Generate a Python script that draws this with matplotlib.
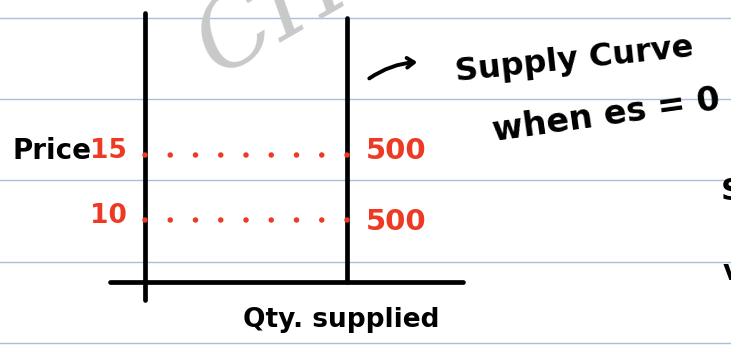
import numpy as np
import matplotlib
matplotlib.use('Agg')
import matplotlib.pyplot as plt

# perfectly inelastic supply: same quantity at every price
prices = [15, 10]
quantities = [500, 500]
price_labels = ['15', '10']
qty_labels = ['500', '500']

RED = '#ee3a24'
INK = '#000000'
RULE = '#a9bfdc'

W, H = 731, 355
fig = plt.figure(figsize=(W / 100, H / 100), dpi=100)
fig.patch.set_facecolor('white')

# page overlay in pixel units (y grows downward)
pg = fig.add_axes([0, 0, 1, 1])
pg.set_xlim(0, W)
pg.set_ylim(H, 0)
pg.axis('off')

# data axes: q=0 at px 145, q=500 at px 347; p=15 at px 155, p=10 at px 220
px_per_q = (347 - 145) / 500
px_per_p = (220 - 155) / 5
ax = fig.add_axes([0, 0, 1, 1], facecolor='none')
ax.set_xlim(-145 / px_per_q, (W - 145) / px_per_q)
ax.set_ylim(10 - (H - 220) / px_per_p, 15 + 155 / px_per_p)
ax.axis('off')

def p_to_px(p):
    return 155 + (15 - p) * px_per_p

# ruled notebook lines
for y in [18, 99, 180, 262, 343]:
    pg.plot([0, W], [y, y], color=RULE, lw=1.0, zorder=0)

# faint watermark, mostly off the top of the page
pg.text(272, 14, 'CH', fontsize=70, family='DejaVu Serif', style='italic',
        color='#c9c9c9', rotation=30, ha='center', va='center', zorder=1)

# axes drawn by hand
pg.plot([145, 145], [13, 300], color=INK, lw=3.4, solid_capstyle='round', zorder=3)
pg.plot([110, 463], [282, 282], color=INK, lw=3.4, solid_capstyle='round', zorder=3)

# supply curve: vertical at Q = 500
p_base = 10 - (282 - 220) / px_per_p
p_top = 15 + (155 - 18) / px_per_p
ax.plot([quantities[0], quantities[0]], [p_base, p_top], color=INK, lw=3.4,
        solid_capstyle='round', zorder=3)

# dotted guides from the price axis to the curve, 8 gaps per guide
lw_dot = 4.0
for p, q in zip(prices, quantities):
    span_pt = q * px_per_q * 0.72
    gap = span_pt / 8 / lw_dot
    ax.plot([0, q * 1.01], [p, p], color=RED, lw=lw_dot,
            linestyle=(0, (0.001, gap - 0.001)), dash_capstyle='round', zorder=4)

fs = dict(fontweight='bold', va='center')
pg.text(52, 151, 'Price', color=INK, ha='center', fontsize=20, **fs)
label_dy = [-4, -4]
qty_dy = [-4, 2]
for p, lab, dy in zip(prices, price_labels, label_dy):
    pg.text(127, p_to_px(p) + dy, lab, color=RED, ha='right', fontsize=19, **fs)
for p, lab, dy in zip(prices, qty_labels, qty_dy):
    pg.text(366, p_to_px(p) + dy, lab, color=RED, ha='left', fontsize=21, **fs)

pg.text(341, 320, 'Qty. supplied', color=INK, ha='center', fontsize=19, **fs)

# arrow pointing to the label
pg.annotate('', xy=(420, 62), xytext=(367, 80),
            arrowprops=dict(arrowstyle='->,head_length=0.5,head_width=0.35',
                            color=INK, lw=2.8, connectionstyle='arc3,rad=-0.15'))
pg.text(574, 60, 'Supply Curve', color=INK, ha='center', fontsize=23,
        rotation=6, rotation_mode='anchor', **fs)
pg.text(606, 116, 'when es = 0', color=INK, ha='center', fontsize=24,
        rotation=8, rotation_mode='anchor', **fs)

# text running off the right edge
pg.text(721, 192, 'S', color=INK, ha='left', fontsize=22, **fs)
pg.text(723, 272, 'v', color=INK, ha='left', fontsize=20, **fs)

fig.savefig('out.png', dpi=100, facecolor='white')
